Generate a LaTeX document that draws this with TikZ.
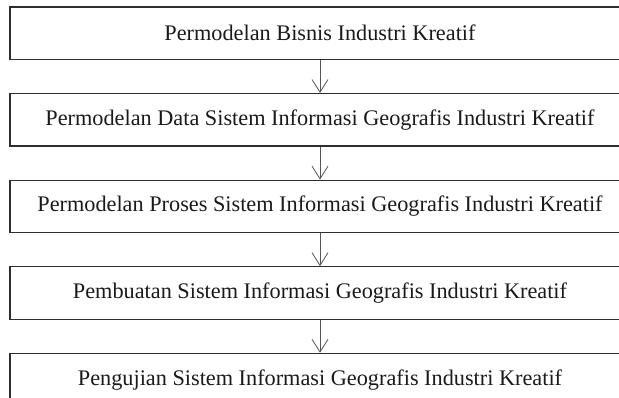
\documentclass[tikz,border=0pt]{standalone}
\usepackage{fontspec}
\setmainfont{Liberation Serif}
\usetikzlibrary{positioning, arrows.meta}
\definecolor{clrborder}{HTML}{2E2E2E}
\definecolor{clrarrow}{HTML}{555555}
\definecolor{clrtext}{HTML}{1A1A1A}

\begin{document}
\begin{tikzpicture}[
    x=0.75pt, y=-0.75pt,
    node distance=24.6pt,
    every node/.style={font=\fontsize{16.7}{20}\selectfont},
    block/.style={draw=clrborder, line width=0.95pt, minimum width=465pt,
                  minimum height=39.4pt, text=clrtext, inner sep=0pt},
    arrow/.style={-{Straight Barb[length=9.5pt, width=12pt]}, color=clrarrow, line width=0.6pt},
]
\clip (0,0) rectangle (619,398);
\node[block] (n_1) at (320,33.25) {Permodelan Bisnis Industri Kreatif};
\node[block, below=of n_1] (n_2) {Permodelan Data Sistem Informasi Geografis Industri Kreatif};
\node[block, below=of n_2] (n_3) {Permodelan Proses Sistem Informasi Geografis Industri Kreatif};
\node[block, below=of n_3] (n_4) {Pembuatan Sistem Informasi Geografis Industri Kreatif};
\node[block, below=of n_4] (n_5) {Pengujian Sistem Informasi Geografis Industri Kreatif};
\draw[arrow] (n_1.south) -- (n_2.north);
\draw[arrow] (n_2.south) -- (n_3.north);
\draw[arrow] (n_3.south) -- (n_4.north);
\draw[arrow] (n_4.south) -- (n_5.north);
\end{tikzpicture}
\end{document}
